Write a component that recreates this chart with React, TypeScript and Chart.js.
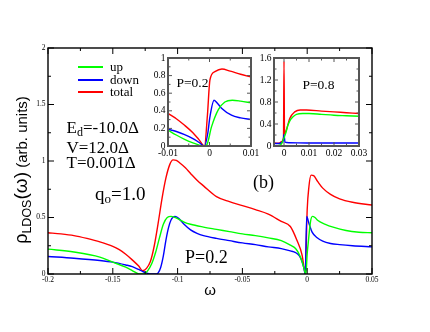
import React, { useEffect, useRef } from 'react';
import { Chart, registerables } from 'chart.js';

Chart.register(...registerables);

// ---------- main panel: P=0.2 ----------
const mainTotalX = [-0.2, -0.19, -0.18, -0.17, -0.16, -0.15, -0.145, -0.14, -0.135, -0.13, -0.127, -0.124, -0.121, -0.118, -0.115, -0.112, -0.109, -0.106, -0.1035, -0.101, -0.098, -0.094, -0.09, -0.085, -0.08, -0.07, -0.06, -0.05, -0.04, -0.03, -0.02, -0.013, -0.008, -0.004, -0.0022, -0.0015, 0, 0.0013, 0.003, 0.005, 0.008, 0.012, 0.018, 0.025, 0.035, 0.05];
const mainTotalY = [0.365, 0.355, 0.34, 0.315, 0.285, 0.245, 0.215, 0.175, 0.125, 0.07, 0.03, 0.05, 0.11, 0.25, 0.45, 0.67, 0.85, 0.97, 1.01, 1.005, 0.98, 0.94, 0.89, 0.83, 0.78, 0.685, 0.64, 0.605, 0.57, 0.53, 0.465, 0.42, 0.3, 0.17, 0.04, 0, 0.57, 0.77, 0.875, 0.87, 0.82, 0.76, 0.705, 0.665, 0.635, 0.61];

const mainUpX = [-0.2, -0.18, -0.16, -0.15, -0.14, -0.135, -0.131, -0.129, -0.126, -0.123, -0.12, -0.117, -0.114, -0.111, -0.108, -0.105, -0.1, -0.095, -0.09, -0.08, -0.07, -0.06, -0.05, -0.04, -0.03, -0.02, -0.013, -0.009, -0.006, -0.004, -0.0027, -0.0015, -0.001, 0, 0.001, 0.0025, 0.004, 0.006, 0.008, 0.014, 0.02, 0.03, 0.04, 0.05];
const mainUpY = [0.22, 0.195, 0.15, 0.105, 0.06, 0.03, 0.005, 0, 0, 0.03, 0.09, 0.19, 0.32, 0.44, 0.5, 0.51, 0.49, 0.46, 0.44, 0.415, 0.395, 0.375, 0.355, 0.34, 0.32, 0.295, 0.255, 0.225, 0.17, 0.11, 0.06, 0.01, 0, 0.18, 0.3, 0.46, 0.51, 0.5, 0.475, 0.44, 0.415, 0.385, 0.37, 0.365];

const mainDownX = [-0.2, -0.18, -0.16, -0.15, -0.14, -0.135, -0.13, -0.1265, -0.123, -0.12, -0.117, -0.115, -0.113, -0.111, -0.109, -0.107, -0.105, -0.102, -0.099, -0.095, -0.09, -0.085, -0.08, -0.07, -0.06, -0.05, -0.04, -0.03, -0.02, -0.013, -0.009, -0.006, -0.004, -0.0025, -0.0015, -0.0004, 0.0013, 0.0038, 0.0077, 0.012, 0.018, 0.025, 0.035, 0.05];
const mainDownY = [0.155, 0.14, 0.12, 0.105, 0.08, 0.065, 0.04, 0.02, 0.005, 0, 0, 0.01, 0.06, 0.16, 0.3, 0.41, 0.48, 0.51, 0.49, 0.44, 0.39, 0.36, 0.34, 0.315, 0.295, 0.275, 0.26, 0.24, 0.225, 0.205, 0.19, 0.16, 0.11, 0.05, 0, 0.51, 0.45, 0.37, 0.32, 0.29, 0.27, 0.26, 0.25, 0.24];

const mainXTicks = [-0.2, -0.15, -0.1, -0.05, 0, 0.05];
const mainXMinor = [-0.175, -0.125, -0.075, -0.025, 0.025];
const mainYTicks = [0, 0.5, 1, 1.5, 2];
const mainYMinor = [0.25, 0.75, 1.25, 1.75];

// ---------- inset (a): P=0.2, zoom near 0 ----------
const in1TotalX = [-0.01, -0.008, -0.006, -0.004, -0.0025, -0.0012, -0.0005, 0.0001, 0.0013, 0.003, 0.005, 0.0075, 0.01];
const in1TotalY = [0.37, 0.31, 0.235, 0.15, 0.07, 0, 0.35, 0.75, 0.845, 0.875, 0.85, 0.815, 0.785];
const in1DownX = [-0.01, -0.008, -0.006, -0.004, -0.0025, -0.0012, -0.0004, 0.0001, 0.0011, 0.002, 0.0029, 0.0053, 0.0075, 0.01];
const in1DownY = [0.19, 0.165, 0.13, 0.085, 0.04, 0, 0.15, 0.33, 0.52, 0.48, 0.43, 0.35, 0.32, 0.3];
const in1UpX = [-0.01, -0.008, -0.006, -0.004, -0.0025, -0.0015, -0.0007, 0.0005, 0.0021, 0.0037, 0.0055, 0.0075, 0.01];
const in1UpY = [0.18, 0.125, 0.075, 0.035, 0.01, 0, 0.01, 0.22, 0.41, 0.5, 0.52, 0.51, 0.49];
const in1XTicks = [-0.01, 0, 0.01];
const in1XMinor = [-0.005, 0.005];
const in1YTicks = [0, 0.2, 0.4, 0.6, 0.8, 1];
const in1YMinor = [0.1, 0.3, 0.5, 0.7, 0.9];

// ---------- inset (b): P=0.8 ----------
const in2TotalX = [-0.004, -0.003, -0.002, -0.001, -0.0002, 0, 0.0002, 0.001, 0.0023, 0.0043, 0.0065, 0.009, 0.015, 0.02, 0.025, 0.03];
const in2TotalY = [0.06, 0.05, 0.05, 0.08, 0.15, 1.54, 0.22, 0.3, 0.5, 0.62, 0.655, 0.655, 0.635, 0.62, 0.605, 0.59];
const in2UpX = [-0.004, -0.003, -0.002, -0.001, -0.0004, 0.0006, 0.0016, 0.0026, 0.0036, 0.005, 0.0075, 0.01, 0.015, 0.02, 0.025, 0.03];
const in2UpY = [0.01, 0, 0.01, 0.04, 0.1, 0.22, 0.38, 0.48, 0.53, 0.575, 0.59, 0.59, 0.575, 0.56, 0.55, 0.54];
const in2DownX = [-0.004, -0.003, -0.002, -0.001, -0.0003, 0, 0.0004, 0.002, 0.01, 0.02, 0.03];
const in2DownY = [0.05, 0.045, 0.045, 0.06, 0.1, 0.21, 0.07, 0.06, 0.055, 0.055, 0.055];
const in2XTicks = [0, 0.01, 0.02, 0.03];
const in2XMinor = [0.005, 0.015, 0.025];
const in2YTicks = [0, 0.4, 0.8, 1.2, 1.6];
const in2YMinor = [0.2, 0.6, 1.0, 1.4];

const GREEN = '#00ff00';
const BLUE = '#0000ff';
const RED = '#ff0000';
const SERIF = '"Liberation Serif", "Times New Roman", serif';
const SANS = '"Liberation Sans", Arial, sans-serif';

const pts = (xs: number[], ys: number[]) => xs.map((x, i) => ({ x, y: ys[i] }));
const fmt = (v: number) => String(Math.round(v * 10000) / 10000);

const framePlugin = {
  id: 'frame',
  beforeDatasetsDraw(chart: any, _a: any, o: any) {
    if (!o || !o.fill) return;
    const { ctx, chartArea: a } = chart;
    ctx.save();
    ctx.fillStyle = o.fill;
    ctx.fillRect(a.left, a.top, a.width, a.height);
    ctx.restore();
  },
  afterDatasetsDraw(chart: any, _a: any, o: any) {
    if (!o) return;
    const { ctx, chartArea: a, scales } = chart;
    const xs = scales.x;
    const ys = scales.y;
    ctx.save();
    ctx.strokeStyle = o.color;
    ctx.lineWidth = o.tickWidth;
    ctx.beginPath();
    const vx = (list: number[], len: number) =>
      list.forEach((v) => {
        const p = xs.getPixelForValue(v);
        ctx.moveTo(p, a.bottom);
        ctx.lineTo(p, a.bottom - len);
        ctx.moveTo(p, a.top);
        ctx.lineTo(p, a.top + len);
      });
    const vy = (list: number[], len: number) =>
      list.forEach((v) => {
        const p = ys.getPixelForValue(v);
        ctx.moveTo(a.left, p);
        ctx.lineTo(a.left + len, p);
        ctx.moveTo(a.right, p);
        ctx.lineTo(a.right - len, p);
      });
    vx(o.xMajor, o.major);
    vx(o.xMinor, o.minor);
    vy(o.yMajor, o.major);
    vy(o.yMinor, o.minor);
    ctx.stroke();
    ctx.lineWidth = o.width;
    ctx.strokeRect(a.left, a.top, a.width, a.height);
    ctx.restore();
  },
};

type Cfg = {
  series: { xs: number[]; ys: number[]; color: string }[];
  xMin: number; xMax: number; yMin: number; yMax: number;
  xTicks: number[]; yTicks: number[]; xMinor: number[]; yMinor: number[];
  padTop: number; padRight: number; yW: number; xH: number;
  font: number; lw: number; frame: any; fill?: string;
};

function buildConfig(c: Cfg): any {
  return {
    type: 'line',
    data: {
      datasets: c.series.map((s) => ({
        data: pts(s.xs, s.ys),
        borderColor: s.color,
        borderWidth: c.lw,
        pointRadius: 0,
        fill: false,
        cubicInterpolationMode: 'monotone',
      })),
    },
    options: {
      animation: false,
      responsive: false,
      devicePixelRatio: 1,
      layout: { padding: { left: 0, top: c.padTop, right: c.padRight, bottom: 0 } },
      plugins: {
        legend: { display: false },
        tooltip: { enabled: false },
        title: { display: false },
        frame: { ...c.frame, fill: c.fill, xMajor: c.xTicks, xMinor: c.xMinor, yMajor: c.yTicks, yMinor: c.yMinor },
      },
      scales: {
        x: {
          type: 'linear',
          min: c.xMin,
          max: c.xMax,
          grid: { display: false, drawTicks: false },
          border: { display: false },
          afterBuildTicks: (s: any) => { s.ticks = c.xTicks.map((v) => ({ value: v })); },
          afterFit: (s: any) => { s.height = c.xH; s.paddingLeft = 0; s.paddingRight = 0; },
          ticks: {
            autoSkip: false, maxRotation: 0, minRotation: 0, padding: 2, color: '#000',
            font: { family: SERIF, size: c.font },
            callback: (v: any) => fmt(Number(v)),
          },
        },
        y: {
          type: 'linear',
          min: c.yMin,
          max: c.yMax,
          grid: { display: false, drawTicks: false },
          border: { display: false },
          afterBuildTicks: (s: any) => { s.ticks = c.yTicks.map((v) => ({ value: v })); },
          afterFit: (s: any) => { s.width = c.yW; s.paddingTop = 0; s.paddingBottom = 0; },
          ticks: {
            autoSkip: false, padding: 2.5, color: '#000',
            font: { family: SERIF, size: c.font },
            callback: (v: any) => fmt(Number(v)),
          },
        },
      },
    },
    plugins: [framePlugin],
  };
}

function ChartCanvas({ cfg, left, top, width, height }: { cfg: Cfg; left: number; top: number; width: number; height: number }) {
  const ref = useRef<HTMLCanvasElement | null>(null);
  useEffect(() => {
    if (!ref.current) return;
    const chart = new Chart(ref.current, buildConfig(cfg));
    return () => chart.destroy();
  }, []);
  return (
    <canvas
      ref={ref}
      width={width}
      height={height}
      style={{ position: 'absolute', left, top, width, height }}
    />
  );
}

const mainCfg: Cfg = {
  series: [
    { xs: mainUpX, ys: mainUpY, color: GREEN },
    { xs: mainDownX, ys: mainDownY, color: BLUE },
    { xs: mainTotalX, ys: mainTotalY, color: RED },
  ],
  xMin: -0.2, xMax: 0.05, yMin: 0, yMax: 2,
  xTicks: mainXTicks, yTicks: mainYTicks, xMinor: mainXMinor, yMinor: mainYMinor,
  padTop: 48, padRight: 58, yW: 48, xH: 58,
  font: 7.5, lw: 1.4,
  frame: { color: '#000', width: 1.4, tickWidth: 1, major: 6, minor: 3 },
};

const in1Cfg: Cfg = {
  series: [
    { xs: in1UpX, ys: in1UpY, color: GREEN },
    { xs: in1DownX, ys: in1DownY, color: BLUE },
    { xs: in1TotalX, ys: in1TotalY, color: RED },
  ],
  xMin: -0.01, xMax: 0.01, yMin: 0, yMax: 1,
  xTicks: in1XTicks, yTicks: in1YTicks, xMinor: in1XMinor, yMinor: in1YMinor,
  padTop: 6, padRight: 13, yW: 28, xH: 12,
  font: 9.5, lw: 1.4,
  frame: { color: '#555', width: 2, tickWidth: 1, major: 4, minor: 2.5 },
  fill: '#fff',
};

const in2Cfg: Cfg = {
  series: [
    { xs: in2UpX, ys: in2UpY, color: GREEN },
    { xs: in2DownX, ys: in2DownY, color: BLUE },
    { xs: in2TotalX, ys: in2TotalY, color: RED },
  ],
  xMin: -0.004, xMax: 0.03, yMin: 0, yMax: 1.6,
  xTicks: in2XTicks, yTicks: in2YTicks, xMinor: in2XMinor, yMinor: in2YMinor,
  padTop: 6, padRight: 9, yW: 18, xH: 12,
  font: 9.5, lw: 1.4,
  frame: { color: '#555', width: 2, tickWidth: 1, major: 4, minor: 2.5 },
  fill: '#fff',
};

function Txt({ x, base, size, children, family = SERIF }: { x: number; base: number; size: number; children: any; family?: string }) {
  return (
    <div
      style={{
        position: 'absolute', left: x, top: base - 0.8375 * size, fontFamily: family,
        fontSize: size, lineHeight: `${size}px`, whiteSpace: 'nowrap', color: '#000',
      }}
    >
      {children}
    </div>
  );
}

const Sub = ({ children, size, drop }: { children: any; size: number; drop: number }) => (
  <span style={{ fontSize: size, position: 'relative', top: drop, lineHeight: 0 }}>{children}</span>
);

const legendItems = [
  { label: 'up', color: GREEN, y: 67 },
  { label: 'down', color: BLUE, y: 79.5 },
  { label: 'total', color: RED, y: 92 },
];

export default function App() {
  return (
    <div style={{ position: 'absolute', left: 0, top: 0, width: 430, height: 332, background: '#fff', overflow: 'hidden' }}>
      <ChartCanvas cfg={mainCfg} left={0} top={0} width={430} height={332} />
      <ChartCanvas cfg={in1Cfg} left={140} top={52} width={124} height={106} />
      <ChartCanvas cfg={in2Cfg} left={256} top={52} width={112} height={106} />

      {legendItems.map((it) => (
        <React.Fragment key={it.label}>
          <div style={{ position: 'absolute', left: 77.5, top: it.y - 1, width: 25.5, height: 2, background: it.color }} />
          <Txt x={110} base={it.y + 4} size={13}>{it.label}</Txt>
        </React.Fragment>
      ))}

      <Txt x={66.5} base={133.3} size={17}>E<Sub size={12} drop={3}>d</Sub>=-10.0Δ</Txt>
      <Txt x={66.5} base={153.3} size={17}>V=12.0Δ</Txt>
      <Txt x={66.5} base={168.3} size={17}>T=0.001Δ</Txt>
      <Txt x={95} base={200} size={19}>q<Sub size={13} drop={3}>o</Sub>=1.0</Txt>
      <Txt x={253} base={188.5} size={18}>(b)</Txt>
      <Txt x={185} base={263} size={18}>P=0.2</Txt>
      <Txt x={176.5} base={87} size={13.5}>P=0.2</Txt>
      <Txt x={302.5} base={89} size={13.5}>P=0.8</Txt>

      <div style={{ position: 'absolute', left: 210, top: 282.3, transform: 'translateX(-50%)', fontFamily: SANS, fontSize: 15, lineHeight: '15px' }}>ω</div>

      <div
        style={{
          position: 'absolute', left: 21, top: 170, transform: 'translate(-50%, -50%) rotate(-90deg)',
          fontFamily: SANS, fontSize: 15, lineHeight: '18px', whiteSpace: 'nowrap', color: '#000',
        }}
      >
        <span style={{ fontSize: 18 }}>ρ</span>
        <Sub size={12.5} drop={4}>LDOS</Sub>
        <span style={{ fontSize: 19 }}>(ω)</span> (arb. units)
      </div>
    </div>
  );
}
